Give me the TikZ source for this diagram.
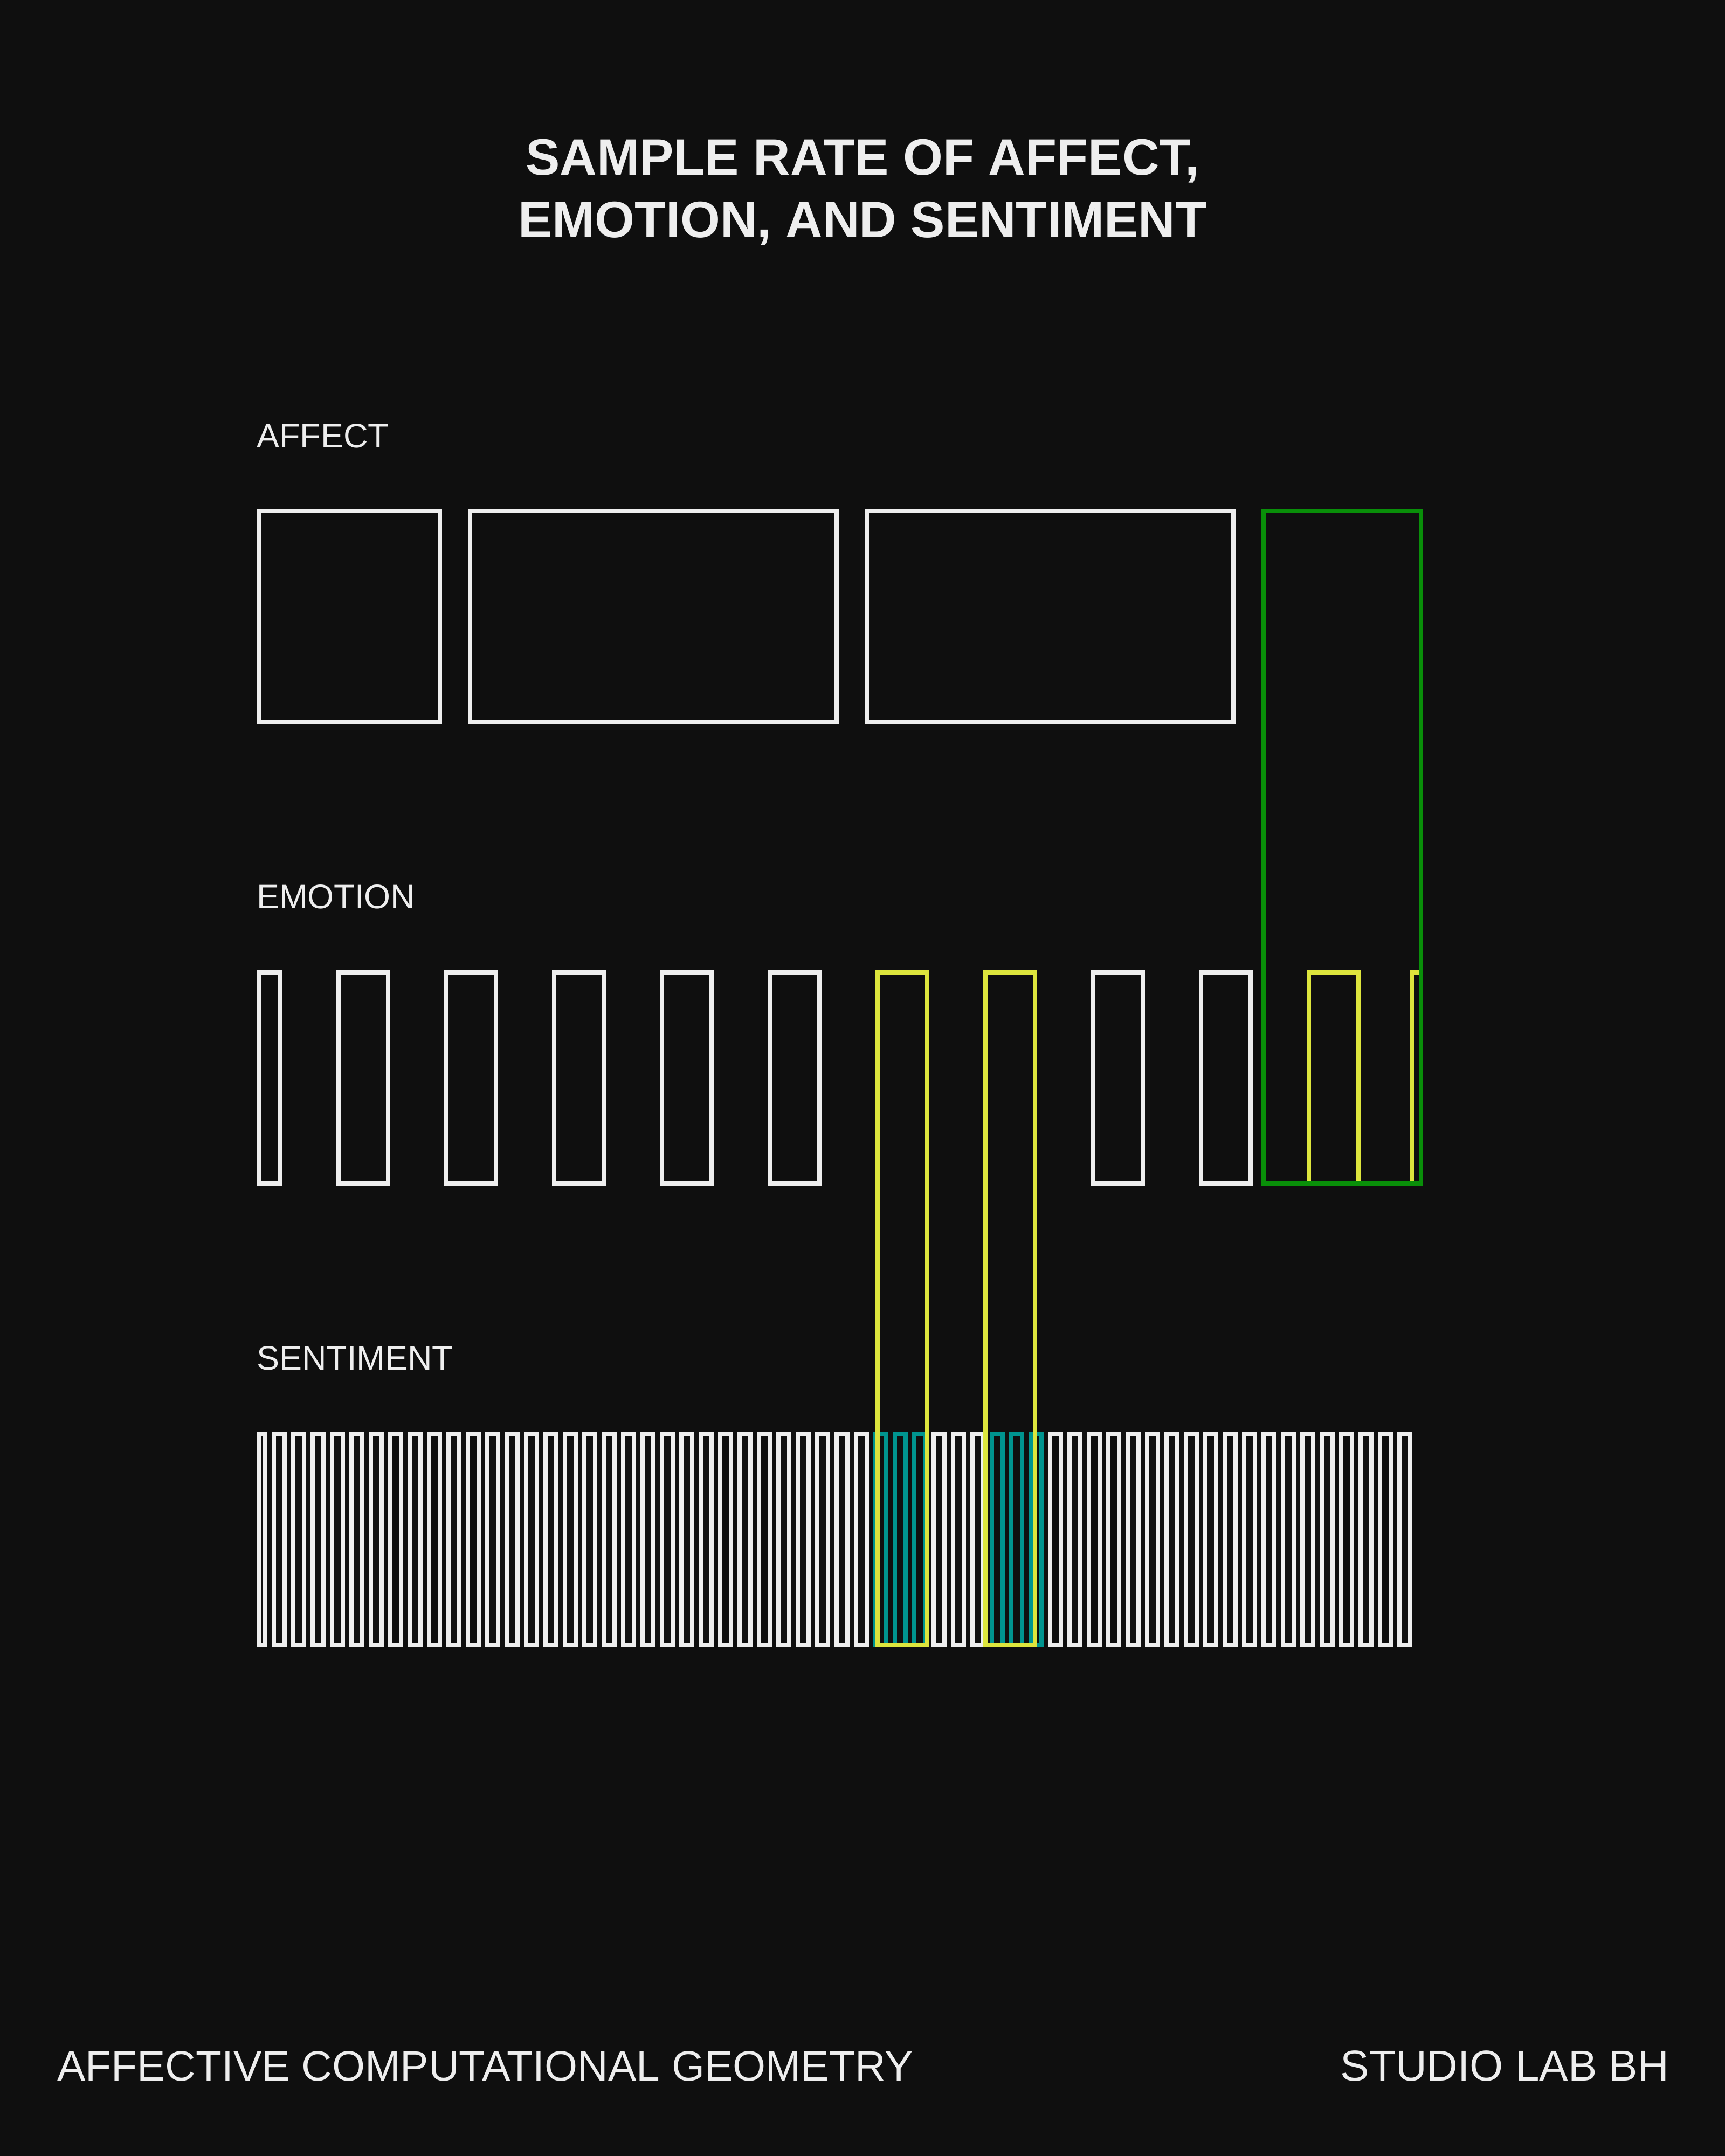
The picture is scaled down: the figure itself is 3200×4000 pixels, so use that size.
\documentclass[tikz,border=0pt]{standalone}
\usepackage{fontspec}
\setmainfont{Liberation Sans}
\definecolor{bg}{HTML}{0F0F0F}
\definecolor{fg}{HTML}{EEEEEE}
\definecolor{grn}{HTML}{098F09}
\definecolor{ylw}{HTML}{DDE53D}
\definecolor{tealc}{HTML}{00948F}
\tikzset{
  wbox/.style={draw=fg, line width=8pt},
  tbox/.style={draw=tealc, line width=8pt},
  ybox/.style={draw=ylw, line width=8pt},
  gbox/.style={draw=grn, line width=8pt},
  lbl/.style={text=fg, inner sep=0pt, anchor=base west, font=\fontsize{63}{75}\selectfont},
  foot/.style={text=fg, inner sep=0pt, font=\fontsize{80}{90}\selectfont},
  ttl/.style={text=fg, inner sep=0pt, anchor=base, font=\bfseries\fontsize{95}{110}\selectfont}
}
\begin{document}
\begin{tikzpicture}[x=1pt,y=-1pt]
\useasboundingbox (0,0) rectangle (3200,4000);
\fill[bg] (0,0) rectangle (3200,4000);

% title
\node[ttl] (title1) at (1600,324) {SAMPLE RATE OF AFFECT,};
\node[ttl] (title2) at (1600,440) {EMOTION, AND SENTIMENT};

% row labels
\node[lbl] (laff) at (476,830) {AFFECT};
\node[lbl] (lemo) at (476,1685) {EMOTION};
\node[lbl] (lsen) at (476,2541) {SENTIMENT};

% affect row
\draw[wbox] (480,948) rectangle (816,1340);
\draw[wbox] (872,948) rectangle (1552,1340);
\draw[wbox] (1608,948) rectangle (2288,1340);

% emotion row (white)
\draw[wbox] (480,1804) rectangle (520,2196);
\foreach \k in {0,1,2,3,4,7,8}
  \draw[wbox] ({628+200*\k},1804) rectangle ({720+200*\k},2196);

% sentiment row (white)
\draw[wbox] (480,2660) rectangle (492,3052);
\foreach \k in {0,1,...,30}
  \draw[wbox] ({508+36*\k},2660) rectangle ({528+36*\k},3052);
\foreach \k in {34,35,36}
  \draw[wbox] ({508+36*\k},2660) rectangle ({528+36*\k},3052);
\foreach \k in {40,41,...,58}
  \draw[wbox] ({508+36*\k},2660) rectangle ({528+36*\k},3052);

% sentiment row (teal)
\foreach \k in {31,32,33,37,38,39}
  \draw[tbox] ({508+36*\k},2660) rectangle ({528+36*\k},3052);

% yellow emotion boxes
\draw[ybox] (1628,1804) rectangle (1720,3052);
\draw[ybox] (1828,1804) rectangle (1920,3052);
\draw[ybox] (2428,1804) rectangle (2520,2196);
\draw[ybox] (2620,1804) rectangle (2636,2196);

% green affect box
\draw[gbox] (2344,948) rectangle (2636,2196);

% footer
\node[foot, anchor=base west, font=\fontsize{78.5}{90}\selectfont] (fl) at (106,3860) {AFFECTIVE COMPUTATIONAL GEOMETRY};
\node[foot, anchor=base east] (fr) at (3096,3860) {STUDIO LAB BH};
\end{tikzpicture}
\end{document}
